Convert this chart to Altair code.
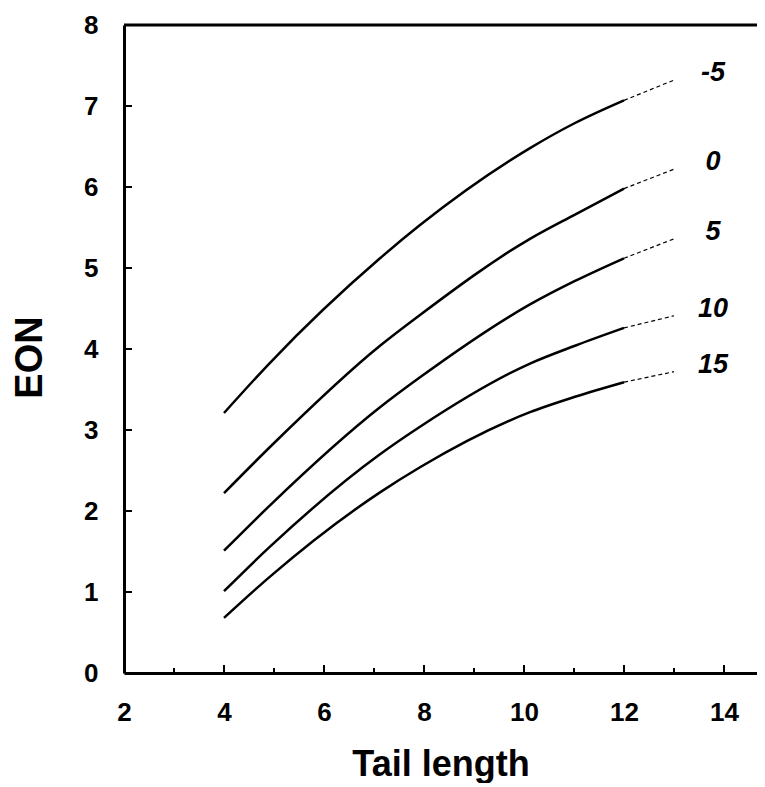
import altair as alt
import pandas as pd

# read positions along Tail length (x) where the curves were sampled
xs = [4, 4.92, 7.12, 7.92, 10.12, 11.02, 12]
series = ["-5", "0", "5", "10", "15"]
eon_m5 = [3.21, 3.83, 5.12, 5.53, 6.48, 6.79, 7.07]
eon_0 = [2.22, 2.79, 4.04, 4.42, 5.36, 5.66, 5.98]
eon_5 = [1.51, 2.07, 3.28, 3.65, 4.55, 4.84, 5.12]
eon_10 = [1.01, 1.56, 2.70, 3.04, 3.82, 4.04, 4.26]
eon_15 = [0.68, 1.19, 2.23, 2.54, 3.22, 3.41, 3.59]
ext_x = [12, 13]
ext_end = [7.32, 6.22, 5.36, 4.41, 3.72]

x_major = [2, 4, 6, 8, 10, 12, 14]
x_minor = [3, 5, 7, 9, 11, 13]
y_ticks = [1, 2, 3, 4, 5, 6, 7]
y_labels = [0, 1, 2, 3, 4, 5, 6, 7, 8]

all_vals = [eon_m5, eon_0, eon_5, eon_10, eon_15]
solid = pd.DataFrame(
    [{"s": s, "x": x, "y": v} for s, vals in zip(series, all_vals) for x, v in zip(xs, vals)]
)
dashed = pd.DataFrame(
    [{"s": s, "x": ext_x[0], "y": vals[-1]} for s, vals in zip(series, all_vals)]
    + [{"s": s, "x": ext_x[1], "y": e} for s, e in zip(series, ext_end)]
)
labels = pd.DataFrame({"s": series, "x": [ext_x[1]] * 5, "y": ext_end})

FONT = "Liberation Sans"
xscale = alt.Scale(domain=[2, 14.66], nice=False, zero=False)
yscale = alt.Scale(domain=[0, 8], nice=False, zero=False)

X = alt.X(
    "x:Q", scale=xscale, title="Tail length",
    axis=alt.Axis(values=x_major, ticks=False, grid=False, domainWidth=3, domainColor="black",
                  labelFont=FONT, labelFontWeight="bold", labelFontSize=26, labelColor="black",
                  labelPadding=26, labelFlush=False, labelOverlap=False,
                  titleFont=FONT, titleFontWeight="bold", titleFontSize=36, titleColor="black",
                  titleY=102, titleBaseline="alphabetic"),
)
Y = alt.Y(
    "y:Q", scale=yscale, title="EON",
    axis=alt.Axis(values=y_labels, ticks=False, grid=False, domainWidth=3, domainColor="black",
                  labelFont=FONT, labelFontWeight="bold", labelFontSize=26, labelColor="black",
                  labelPadding=26, labelFlush=False, labelOverlap=False,
                  titleFont=FONT, titleFontWeight="bold", titleFontSize=38, titleColor="black",
                  titleAngle=270, titleX=-83, titleY=332, titleBaseline="alphabetic",
                  titleAlign="center"),
)

solid_layer = alt.Chart(solid).mark_line(
    color="black", strokeWidth=2.5, interpolate="monotone"
).encode(x=X, y=Y, detail="s:N")

dash_layer = alt.Chart(dashed).mark_line(
    color="black", strokeWidth=1.2, strokeDash=[4, 3]
).encode(x=X, y=Y, detail="s:N")

text_layer = alt.Chart(labels).mark_text(
    font=FONT, fontWeight="bold", fontStyle="italic", fontSize=27, color="black",
    align="center", baseline="middle", dx=39, dy=-7
).encode(x=X, y=Y, text="s:N")

top_rule = alt.Chart(pd.DataFrame({"y": [8]})).mark_rule(
    color="black", strokeWidth=3
).encode(y=Y)

ytick_layer = alt.Chart(pd.DataFrame({"y": y_ticks})).mark_rule(
    color="black", strokeWidth=2
).encode(y=Y, x=alt.value(0), x2=alt.value(8))

xmaj_layer = alt.Chart(pd.DataFrame({"x": x_major[1:]})).mark_rule(
    color="black", strokeWidth=2
).encode(x=X, y=alt.value(648), y2=alt.value(640))

xmin_layer = alt.Chart(pd.DataFrame({"x": x_minor})).mark_rule(
    color="black", strokeWidth=2
).encode(x=X, y=alt.value(648), y2=alt.value(643))

chart = alt.layer(
    solid_layer, dash_layer, text_layer, top_rule, ytick_layer, xmaj_layer, xmin_layer
).properties(
    width=633, height=648,
    autosize=alt.AutoSizeParams(type="none"),
    padding={"left": 116, "top": 17, "right": 0, "bottom": 110},
).configure_view(stroke=None).configure(background="white")

chart.save("out.html", embed_options={"renderer": "svg", "actions": False})
